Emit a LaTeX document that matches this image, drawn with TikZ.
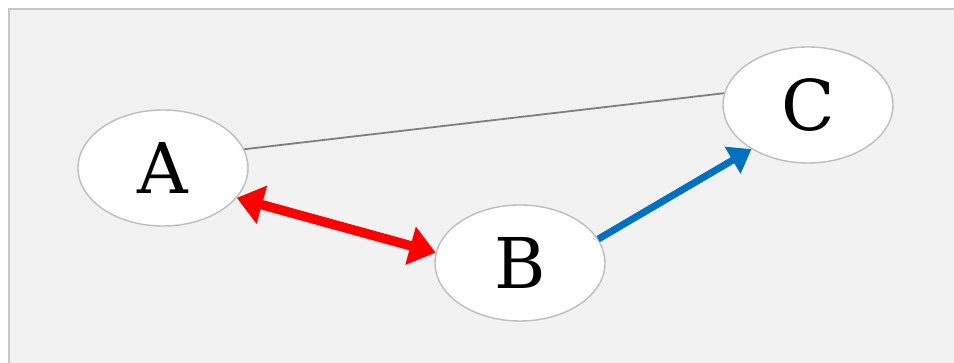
\documentclass[tikz,border=0pt]{standalone}
\usepackage{fontspec}
\setmainfont{DejaVu Serif}
\usetikzlibrary{shapes.geometric,arrows.meta}
\definecolor{panelbg}{HTML}{F2F2F2}
\definecolor{panelline}{HTML}{C8C8C8}
\definecolor{nodeline}{HTML}{BDBDBD}
\definecolor{linkgray}{HTML}{7F7F7F}
\definecolor{linkred}{HTML}{FF0000}
\definecolor{linkblue}{HTML}{0070C0}
\tikzset{
  vertex/.style={ellipse, draw=nodeline, line width=1.4pt, fill=white,
    minimum width=170pt, minimum height=116pt, inner sep=0pt,
    font=\fontsize{70}{72}\selectfont},
  plainlink/.style={draw=linkgray, line width=1.8pt},
  redlink/.style={draw=linkred, line width=9.5pt,
    {Triangle[length=26pt,width=38pt]}-{Triangle[length=26pt,width=38pt]}},
  bluelink/.style={draw=linkblue, line width=7pt,
    -{Triangle[length=22pt,width=30pt]}}
}
\begin{document}
\begin{tikzpicture}[x=1pt,y=-1pt]
  \useasboundingbox (0,0) rectangle (954,363);
  % panel behind the graph
  \fill[white] (0,0) rectangle (954,363);
  \draw[panelline, fill=panelbg, line width=2pt] (9,9) rectangle (970,380);
  % vertices
  \node[vertex] (A) at (163,168) {A};
  \node[vertex] (B) at (520,263) {B};
  \node[vertex] (C) at (808,105) {C};
  % links
  \draw[plainlink] (A.13) -- (C.172);
  \draw[redlink] (A.-22) -- (B.173);
  \draw[bluelink] (B.17) -- (C.218);
\end{tikzpicture}
\end{document}
